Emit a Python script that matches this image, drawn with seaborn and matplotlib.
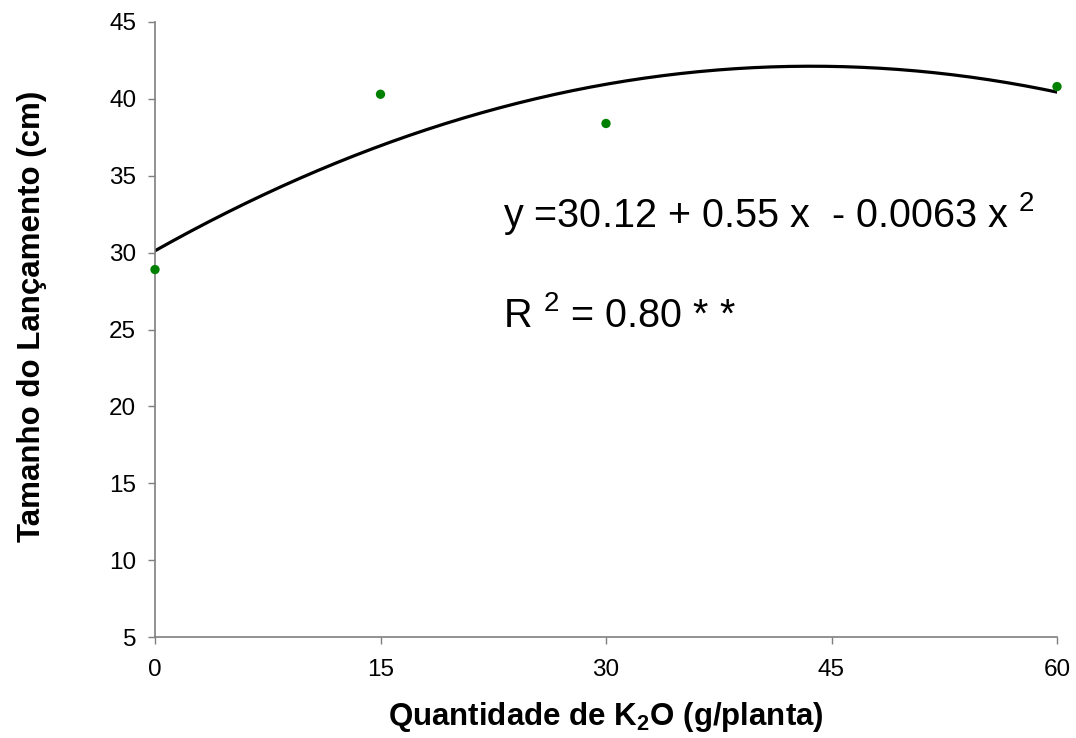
import numpy as np
import pandas as pd
import matplotlib
matplotlib.use("Agg")
import matplotlib.pyplot as plt
import seaborn as sns

# Observed means: K2O dose (g/planta) vs. shoot length (cm)
doses = [0, 15, 30, 60]
tamanho = [28.9, 40.3, 38.4, 40.8]

# Quadratic fit y = b0 + b1 x + b2 x^2
coef = [30.12, 0.55, -0.0063]
r2 = 0.80

x_ticks = [0, 15, 30, 45, 60]
y_ticks = [5, 10, 15, 20, 25, 30, 35, 40, 45]

sns.set_theme(style="ticks")
plt.rcParams["font.family"] = ["Liberation Sans", "DejaVu Sans"]
plt.rcParams["text.color"] = "black"
plt.rcParams["axes.labelcolor"] = "black"
plt.rcParams["mathtext.fontset"] = "custom"
plt.rcParams["mathtext.rm"] = "Liberation Sans"
plt.rcParams["mathtext.it"] = "Liberation Sans"
plt.rcParams["mathtext.bf"] = "Liberation Sans:bold"

fig = plt.figure(figsize=(10.76, 7.38), dpi=100)
ax = fig.add_axes([155 / 1076, 1 - 637 / 738, 902 / 1076, 615 / 738])

obs = pd.DataFrame({"dose": doses, "tamanho": tamanho})
xs = np.linspace(min(doses), max(doses), 200)
fit = pd.DataFrame({"dose": xs, "tamanho": coef[0] + coef[1] * xs + coef[2] * xs ** 2})

sns.lineplot(data=fit, x="dose", y="tamanho", color="black", linewidth=2.3, ax=ax, zorder=2)
sns.scatterplot(data=obs, x="dose", y="tamanho", color="#008000", s=45,
                edgecolor="none", ax=ax, zorder=3, clip_on=False)

ax.set_xlim(0, 60)
ax.set_ylim(5, 45)
ax.set_xticks(x_ticks)
ax.set_yticks(y_ticks)
ax.tick_params(axis="both", labelsize=17.5, length=5, width=1.0, color="#7f7f7f",
               labelcolor="black", direction="out")
ax.tick_params(axis="x", pad=11)
ax.tick_params(axis="y", pad=8.5)

for side in ["top", "right"]:
    ax.spines[side].set_visible(False)
for side in ["left", "bottom"]:
    ax.spines[side].set_color("#7f7f7f")
    ax.spines[side].set_linewidth(1.2)

ax.set_xlabel(r"Quantidade de $\mathbf{K_2O}$ (g/planta)", fontsize=22.5, fontweight="bold")
ax.set_ylabel("Tamanho do Lançamento (cm)", fontsize=22.5, fontweight="bold")
ax.xaxis.label.set_va("baseline")
ax.xaxis.set_label_coords(0.5, -0.143)
ax.yaxis.label.set_va("baseline")
ax.yaxis.set_label_coords(-0.1275, 0.522)

eq = f"y ={coef[0]:.2f} + {coef[1]:.2f} x  - {abs(coef[2]):.4f} x $^{{2}}$"
ax.text(23.15, 31.69, eq, fontsize=28.5, va="baseline", ha="left")
ax.text(23.15, 25.18, f"R $^{{2}}$ = {r2:.2f} * *", fontsize=28.5, va="baseline", ha="left")

fig.savefig("out.png", dpi=100, facecolor="white")
